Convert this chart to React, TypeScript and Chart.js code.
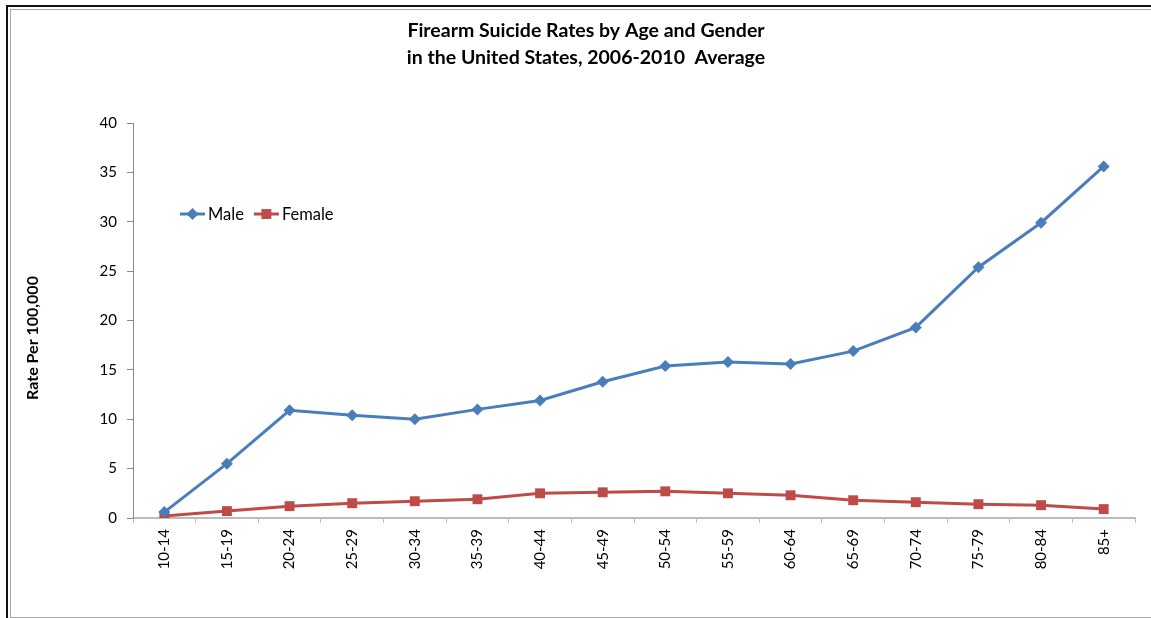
import React, { useEffect, useRef } from 'react';
import { Chart, registerables } from 'chart.js';

Chart.register(...registerables);

const ageGroups = ['10-14', '15-19', '20-24', '25-29', '30-34', '35-39', '40-44', '45-49', '50-54', '55-59', '60-64', '65-69', '70-74', '75-79', '80-84', '85+'];
const maleRates = [0.6, 5.5, 10.9, 10.4, 10.0, 11.0, 11.9, 13.8, 15.4, 15.8, 15.6, 16.9, 19.3, 25.4, 29.9, 35.6];
const femaleRates = [0.2, 0.7, 1.2, 1.5, 1.7, 1.9, 2.5, 2.6, 2.7, 2.5, 2.3, 1.8, 1.6, 1.4, 1.3, 0.9];
const yTickValues = [0, 5, 10, 15, 20, 25, 30, 35, 40];
const titleLines = ['Firearm Suicide Rates by Age and Gender', 'in the United States, 2006-2010  Average'];
const yAxisTitle = 'Rate Per 100,000';

const FONT = 'Lato, "Open Sans", sans-serif';
const MALE_COLOR = '#4A7EBB';
const FEMALE_COLOR = '#BE4B48';

function drawMarker(ctx: CanvasRenderingContext2D, style: string, x: number, y: number, r: number, color: string) {
  ctx.save();
  ctx.fillStyle = color;
  ctx.beginPath();
  if (style === 'rectRot') {
    ctx.moveTo(x, y - r);
    ctx.lineTo(x + r, y);
    ctx.lineTo(x, y + r);
    ctx.lineTo(x - r, y);
    ctx.closePath();
  } else {
    const s = r * Math.SQRT1_2;
    ctx.rect(x - s, y - s, 2 * s, 2 * s);
  }
  ctx.fill();
  ctx.restore();
}

const overlayPlugin = {
  id: 'overlay',
  afterDraw(chart: any) {
    const ctx: CanvasRenderingContext2D = chart.ctx;
    // y-axis title
    ctx.save();
    ctx.translate(33, 338);
    ctx.rotate(-Math.PI / 2);
    ctx.font = `bold 16px ${FONT}`;
    ctx.fillStyle = '#000';
    ctx.textAlign = 'center';
    ctx.textBaseline = 'middle';
    ctx.fillText(yAxisTitle, 0, 0);
    ctx.restore();

    // in-plot legend
    const legendY = 214;
    let x = 180;
    ctx.save();
    ctx.font = `16.5px ${FONT}`;
    ctx.textBaseline = 'middle';
    ctx.textAlign = 'left';
    chart.data.datasets.forEach((ds: any) => {
      ctx.strokeStyle = ds.borderColor;
      ctx.lineWidth = 3;
      ctx.beginPath();
      ctx.moveTo(x, legendY);
      ctx.lineTo(x + 25, legendY);
      ctx.stroke();
      drawMarker(ctx, ds.pointStyle, x + 12.5, legendY, ds.pointRadius, ds.borderColor);
      ctx.fillStyle = '#000';
      ctx.fillText(ds.label, x + 28, legendY + 1);
      x += 28 + ctx.measureText(ds.label).width + 10;
    });
    ctx.restore();
  },
};

export default function App() {
  const canvasRef = useRef<HTMLCanvasElement | null>(null);

  useEffect(() => {
    const prevMargin = document.body.style.margin;
    document.body.style.margin = '0';
    if (!canvasRef.current) return;
    const chart = new Chart(canvasRef.current, {
      type: 'line',
      data: {
        labels: ageGroups,
        datasets: [
          {
            label: 'Male',
            data: maleRates,
            borderColor: MALE_COLOR,
            backgroundColor: MALE_COLOR,
            borderWidth: 3,
            pointStyle: 'rectRot',
            pointRadius: 6,
            pointBorderWidth: 0,
            tension: 0,
          },
          {
            label: 'Female',
            data: femaleRates,
            borderColor: FEMALE_COLOR,
            backgroundColor: FEMALE_COLOR,
            borderWidth: 3,
            pointStyle: 'rect',
            pointRadius: 7,
            pointBorderWidth: 0,
            tension: 0,
          },
        ],
      },
      options: {
        responsive: false,
        animation: false,
        layout: { padding: { left: 37, right: 16, top: 0, bottom: 0 } },
        plugins: {
          legend: { display: false },
          tooltip: { enabled: false },
          title: {
            display: true,
            text: titleLines,
            color: '#000',
            font: { family: FONT, size: 19.5, weight: 'bold', lineHeight: 27 / 19.5 },
            padding: { top: 17.5, bottom: 51.5 },
          },
        },
        scales: {
          x: {
            type: 'category',
            offset: true,
            grid: { drawOnChartArea: false, drawTicks: true, tickLength: 5, color: '#bcbcbc', offset: true },
            border: { display: true, color: '#bcbcbc', width: 2 },
            ticks: {
              color: '#000',
              font: { family: FONT, size: 15 },
              minRotation: 90,
              maxRotation: 90,
              padding: 6,
              autoSkip: false,
            },
            afterFit: (scale: any) => {
              scale.height = 100;
            },
          },
          y: {
            min: 0,
            max: 40,
            afterBuildTicks: (scale: any) => {
              scale.ticks = yTickValues.map((v) => ({ value: v }));
            },
            grid: { drawOnChartArea: false, drawTicks: true, tickLength: 6, color: '#8a8a8a' },
            border: { display: true, color: '#8a8a8a', width: 1 },
            ticks: {
              color: '#000',
              font: { family: FONT, size: 15 },
              padding: 10,
            },
            afterFit: (scale: any) => {
              scale.width = 96;
            },
          },
        },
      },
      plugins: [overlayPlugin],
    });
    return () => {
      chart.destroy();
      document.body.style.margin = prevMargin;
    };
  }, []);

  return (
    <div style={{ position: 'absolute', left: 0, top: 0, width: 1151, height: 618, overflow: 'hidden', background: '#fff' }}>
      <div style={{ position: 'absolute', left: 6, top: 5, width: 3000, height: 3000, borderLeft: '2px solid #111', borderTop: '2px solid #111' }} />
      <div style={{ position: 'absolute', left: 10, top: 9, width: 3000, height: 607, borderLeft: '1px solid #a8a8a8', borderTop: '1px solid #a8a8a8', borderBottom: '1px solid #a8a8a8' }} />
      <canvas ref={canvasRef} width={1151} height={618} style={{ position: 'absolute', left: 0, top: 0, display: 'block' }} />
    </div>
  );
}
